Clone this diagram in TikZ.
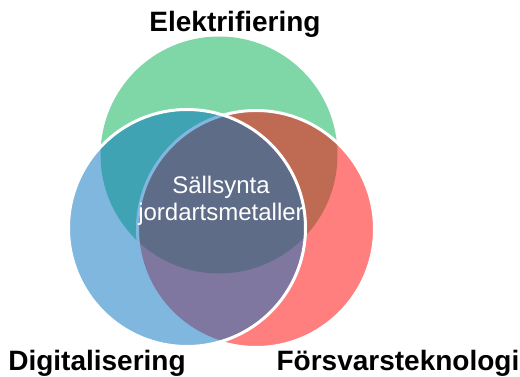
\documentclass[tikz,border=0pt]{standalone}
\usepackage{fontspec}
\setmainfont{Liberation Sans}
\definecolor{vgreen}{RGB}{0,176,80}
\definecolor{vred}{RGB}{255,0,0}
\definecolor{vblue}{RGB}{0,112,192}

\begin{document}
\begin{tikzpicture}[x=1pt, y=1pt,
venn/.style={circle, draw=white, line width=3pt, fill opacity=0.5,
  minimum size=237pt, inner sep=0pt},
setlabel/.style={font=\fontsize{28}{32}\selectfont\bfseries, anchor=base}]
\useasboundingbox (0,0) rectangle (520,377);
\node[venn, draw=none, fill=vgreen] (elek) at (219,222) {};
\node[venn, fill=vred] (forsvar) at (256,148) {};
\node[venn, fill=vblue] (digital) at (187,149) {};
\node[white, align=center, font=\fontsize{24}{27}\selectfont] (rare) at (221,176)
  {Sällsynta\\jordartsmetaller};
\node[setlabel] (elektext) at (235,345) {Elektrifiering};
\node[setlabel] (digitext) at (97,6) {Digitalisering};
\node[setlabel] (forstext) at (398,6) {Försvarsteknologi};
\end{tikzpicture}
\end{document}
